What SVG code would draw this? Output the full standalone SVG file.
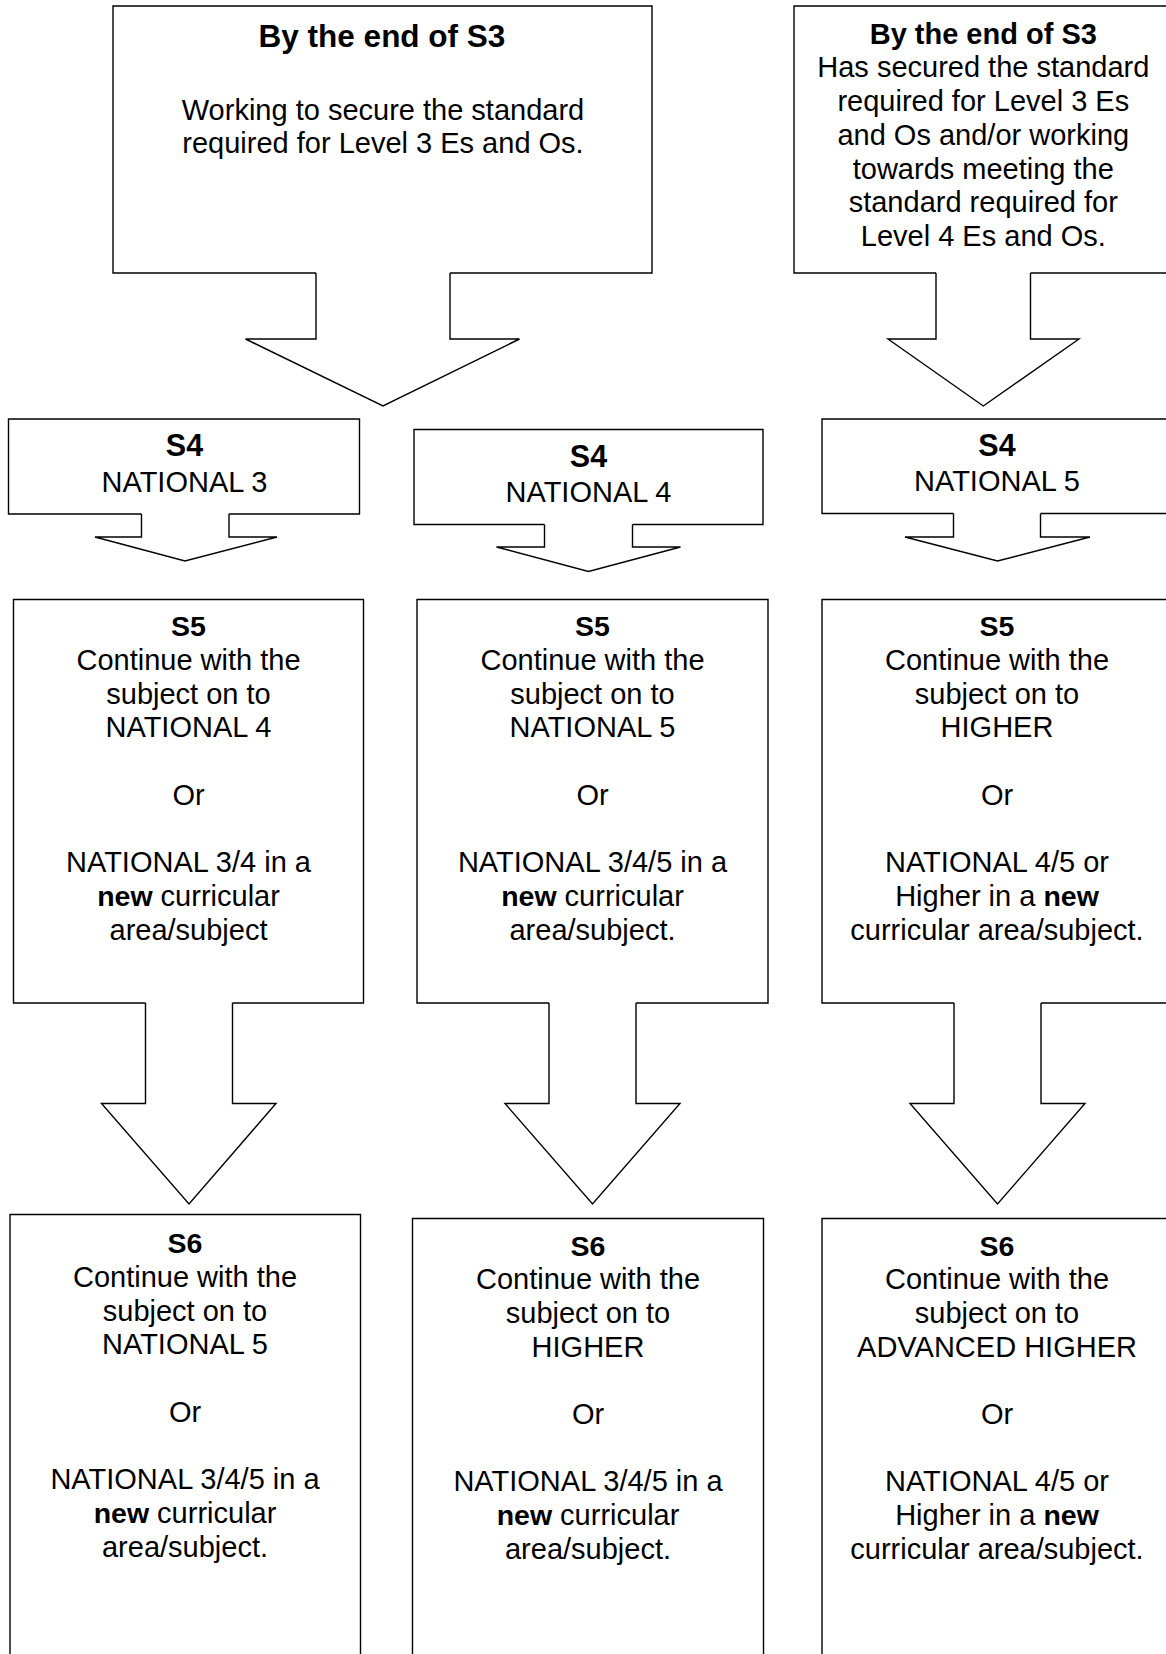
<svg xmlns="http://www.w3.org/2000/svg" width="1166" height="1654" viewBox="0 0 1166 1654">
<style>
.box{fill:#fff;stroke:#000;stroke-width:1.4;stroke-linejoin:miter}
.arr{fill:#fff;stroke:#000;stroke-width:1.4;stroke-linejoin:miter}
text{font-family:"Liberation Sans",Arial,sans-serif;font-size:29px;fill:#000;text-anchor:middle}
.b{font-weight:bold}
</style>
<rect width="1166" height="1654" fill="#fff"/>

<g id="s3-secure">
<path class="box" d="M316,273 H113 V6 H652 V273 H450"/>
<text class="b" x="382" y="46.7" style="font-size:31.5px">By the end of S3</text>
<text x="383" y="120">Working to secure the standard</text>
<text x="383" y="153">required for Level 3 Es and Os.</text>
</g>

<g id="s3-secured">
<path class="box" d="M936,273 H794 V6 H1180 V273 H1030.5"/>
<text class="b" x="983.3" y="43.5">By the end of S3</text>
<text x="983.3" y="77.25">Has secured the standard</text>
<text x="983.3" y="111">required for Level 3 Es</text>
<text x="983.3" y="144.75">and Os and/or working</text>
<text x="983.3" y="178.5">towards meeting the</text>
<text x="983.3" y="212.25">standard required for</text>
<text x="983.3" y="246">Level 4 Es and Os.</text>
</g>

<g id="s4-n3">
<path class="box" d="M141.5,514 H8.5 V419 H359.5 V514 H229"/>
<text class="b" x="184.5" y="456" style="font-size:30.5px">S4</text>
<text x="184.5" y="491.7">NATIONAL 3</text>
</g>

<g id="s4-n4">
<path class="box" d="M544.5,524.5 H414 V429.5 H763 V524.5 H632.5"/>
<text class="b" x="588.5" y="466.7" style="font-size:30.5px">S4</text>
<text x="588.5" y="501.7">NATIONAL 4</text>
</g>

<g id="s4-n5">
<path class="box" d="M953.5,513.5 H822 V419 H1180 V513.5 H1040.5"/>
<text class="b" x="997" y="456" style="font-size:30.5px">S4</text>
<text x="997" y="490.7">NATIONAL 5</text>
</g>

<g id="s5-a">
<path class="box" d="M145.5,1003 H13.5 V599.5 H363.5 V1003 H232.5"/>
<text class="b" x="188.5" y="636" style="font-size:28.5px">S5</text>
<text x="188.5" y="669.75">Continue with the</text>
<text x="188.5" y="703.5">subject on to</text>
<text x="188.5" y="737.25">NATIONAL 4</text>
<text x="188.5" y="804.75">Or</text>
<text x="188.5" y="872.25">NATIONAL 3/4 in a</text>
<text x="188.5" y="906"><tspan class="b" style="font-size:28.5px">new</tspan> curricular</text>
<text x="188.5" y="939.75">area/subject</text>
</g>

<g id="s5-b">
<path class="box" d="M549,1003 H417 V599.5 H768 V1003 H636"/>
<text class="b" x="592.5" y="636" style="font-size:28.5px">S5</text>
<text x="592.5" y="669.75">Continue with the</text>
<text x="592.5" y="703.5">subject on to</text>
<text x="592.5" y="737.25">NATIONAL 5</text>
<text x="592.5" y="804.75">Or</text>
<text x="592.5" y="872.25">NATIONAL 3/4/5 in a</text>
<text x="592.5" y="906"><tspan class="b" style="font-size:28.5px">new</tspan> curricular</text>
<text x="592.5" y="939.75">area/subject.</text>
</g>

<g id="s5-c">
<path class="box" d="M954,1003 H822 V599.5 H1180 V1003 H1041"/>
<text class="b" x="997" y="636" style="font-size:28.5px">S5</text>
<text x="997" y="669.75">Continue with the</text>
<text x="997" y="703.5">subject on to</text>
<text x="997" y="737.25">HIGHER</text>
<text x="997" y="804.75">Or</text>
<text x="997" y="872.25">NATIONAL 4/5 or</text>
<text x="997" y="906">Higher in a <tspan class="b" style="font-size:28.5px">new</tspan></text>
<text x="997" y="939.75">curricular area/subject.</text>
</g>

<g id="s6-a">
<path class="box" d="M10,1680 V1214.5 H360.5 V1680"/>
<text class="b" x="185" y="1253.3" style="font-size:28.5px">S6</text>
<text x="185" y="1287">Continue with the</text>
<text x="185" y="1320.7">subject on to</text>
<text x="185" y="1354.4">NATIONAL 5</text>
<text x="185" y="1421.8">Or</text>
<text x="185" y="1489.2">NATIONAL 3/4/5 in a</text>
<text x="185" y="1522.9"><tspan class="b" style="font-size:28.5px">new</tspan> curricular</text>
<text x="185" y="1556.6">area/subject.</text>
</g>

<g id="s6-b">
<path class="box" d="M412.5,1680 V1218.5 H763.5 V1680"/>
<text class="b" x="588" y="1255.5" style="font-size:28.5px">S6</text>
<text x="588" y="1289.2">Continue with the</text>
<text x="588" y="1322.9">subject on to</text>
<text x="588" y="1356.6">HIGHER</text>
<text x="588" y="1424">Or</text>
<text x="588" y="1491.4">NATIONAL 3/4/5 in a</text>
<text x="588" y="1525.1"><tspan class="b" style="font-size:28.5px">new</tspan> curricular</text>
<text x="588" y="1558.8">area/subject.</text>
</g>

<g id="s6-c">
<path class="box" d="M822,1680 V1218.5 H1180 V1680"/>
<text class="b" x="997" y="1255.5" style="font-size:28.5px">S6</text>
<text x="997" y="1289.2">Continue with the</text>
<text x="997" y="1322.9">subject on to</text>
<text x="997" y="1356.6">ADVANCED HIGHER</text>
<text x="997" y="1424">Or</text>
<text x="997" y="1491.4">NATIONAL 4/5 or</text>
<text x="997" y="1525.1">Higher in a <tspan class="b" style="font-size:28.5px">new</tspan></text>
<text x="997" y="1558.8">curricular area/subject.</text>
</g>

<g id="connectors">
<path class="arr" d="M316,273 V339 H245.5 L383,406 L519.5,339 H450 V273"/>
<path class="arr" d="M936,273 V339 H888 L983.3,406 L1079,339 H1030.5 V273"/>
<path class="arr" d="M141.5,514 V537 H95 L185,561 L277,537 H229 V514"/>
<path class="arr" d="M544.5,524.5 V547 H496.5 L588.5,571.5 L680.5,547 H632.5 V524.5"/>
<path class="arr" d="M953.5,513.5 V537 H905 L997.5,561 L1090,537 H1040.5 V513.5"/>
<path class="arr" d="M145.5,1003 V1103.5 H101.5 L189,1204 L276,1103.5 H232.5 V1003"/>
<path class="arr" d="M549,1003 V1103.5 H505 L592.5,1204 L680,1103.5 H636 V1003"/>
<path class="arr" d="M954,1003 V1103.5 H910 L997.5,1204 L1085,1103.5 H1041 V1003"/>
</g>
</svg>
